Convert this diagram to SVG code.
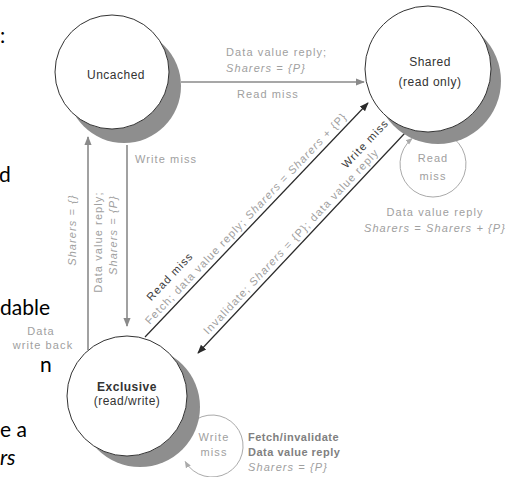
<svg xmlns="http://www.w3.org/2000/svg" width="506" height="477" viewBox="0 0 506 477">
<style>
.lbl{font-family:"Liberation Sans",Arial,sans-serif;font-size:11px;fill:#a0a0a0;letter-spacing:1.1px}
.it{font-style:italic}
.dk{fill:#3a3a3a}
.bd{font-weight:bold;fill:#808080;letter-spacing:0.5px}
.mid{text-anchor:middle}
.st{font-family:"Liberation Sans",Arial,sans-serif;font-size:12px;fill:#333;text-anchor:middle;letter-spacing:0.5px}
.circ{fill:#fff;stroke:#333;stroke-width:1}
.shad{fill:#8e8e8e}
.slide{font-family:Lato,"Open Sans",sans-serif;font-size:21px;fill:#000}
.g{stroke:#8a8a8a;stroke-width:1.6;fill:none}
.d{stroke:#2a2a2a;stroke-width:1.2;fill:none}
.loop{stroke:#aaa;stroke-width:1;fill:none}
</style>
<defs>
<marker id="ag" viewBox="0 0 10 10" refX="9" refY="5" markerWidth="9" markerHeight="9" markerUnits="userSpaceOnUse" orient="auto"><path d="M0,1 L10,5 L0,9 z" fill="#8a8a8a"/></marker>
<marker id="ad" viewBox="0 0 10 10" refX="9" refY="5" markerWidth="9" markerHeight="9" markerUnits="userSpaceOnUse" orient="auto"><path d="M0,1 L10,5 L0,9 z" fill="#2a2a2a"/></marker>
<marker id="al" viewBox="0 0 10 10" refX="9" refY="5" markerWidth="7" markerHeight="7" markerUnits="userSpaceOnUse" orient="auto"><path d="M0,1 L10,5 L0,9 z" fill="#aaa"/></marker>
</defs>

<g id="slide-text">
<text class="slide" x="0" y="43">:</text>
<text class="slide" x="-1" y="182">d</text>
<text class="slide" x="0" y="315">dable</text>
<text class="slide" x="40" y="372">n</text>
<text class="slide" x="0" y="437">e a</text>
<text class="slide" x="0" y="465" font-style="italic">rs</text>
</g>

<g id="connectors">
<line x1="181" y1="82" x2="364" y2="82" class="g" marker-end="url(#ag)"/>
<line x1="88" y1="350" x2="88" y2="137" class="g" marker-end="url(#ag)"/>
<line x1="127" y1="145" x2="127" y2="326" class="g" marker-end="url(#ag)"/>
<line x1="145" y1="337" x2="368" y2="103" class="d" marker-end="url(#ad)"/>
<line x1="405" y1="133" x2="198" y2="353" class="d" marker-end="url(#ad)"/>
<path d="M453.8,138.4 A33,33 0 1,1 412.2,138.4" class="loop" marker-end="url(#al)"/>
<path d="M196.5,419.2 A31,31 0 1,1 185.2,461.5" class="loop" marker-end="url(#al)"/>

<text class="lbl" x="226" y="56">Data value reply;</text>
<text class="lbl it" x="226" y="72">Sharers = {P}</text>
<text class="lbl" x="237" y="98">Read miss</text>

<text class="lbl" x="135" y="163">Write miss</text>
<text class="lbl it mid" transform="translate(76,230) rotate(-90)">Sharers = {}</text>
<text class="lbl mid" transform="translate(102,242) rotate(-90)">Data value reply;</text>
<text class="lbl it mid" transform="translate(117,235) rotate(-90)">Sharers = {P}</text>
<text class="lbl mid" x="41" y="335">Data</text>
<text class="lbl mid" x="43" y="349">write back</text>

<text class="lbl dk" transform="translate(151.2,301.5) rotate(-46.4)">Read miss</text>
<text class="lbl" transform="translate(149.7,324.9) rotate(-46.4)">Fetch; data value reply; <tspan class="it">Sharers</tspan> = <tspan class="it">Sharers</tspan> + {P}</text>
<text class="lbl dk" transform="translate(346.6,168.9) rotate(-46.7)">Write miss</text>
<text class="lbl" transform="translate(208.1,335) rotate(-46.7)">Invalidate; <tspan class="it">Sharers</tspan> = {P}; data value reply</text>

<text class="lbl mid" x="433" y="162">Read</text>
<text class="lbl mid" x="433" y="180">miss</text>
<text class="lbl mid" x="435" y="216">Data value reply</text>
<text class="lbl it mid" x="435" y="232">Sharers = Sharers + {P}</text>

<text class="lbl mid" x="214" y="441">Write</text>
<text class="lbl mid" x="214" y="456">miss</text>
<text class="lbl bd" x="248" y="441">Fetch/invalidate</text>
<text class="lbl bd" x="248" y="456">Data value reply</text>
<text class="lbl it" x="248" y="471">Sharers = {P}</text>
</g>

<g id="uncached">
<circle class="shad" cx="124" cy="86" r="57"/>
<circle class="circ" cx="112" cy="72" r="57"/>
<text class="st" x="116" y="79">Uncached</text>
</g>

<g id="shared">
<circle class="shad" cx="438" cy="81" r="63"/>
<circle class="circ" cx="428" cy="69" r="63"/>
<text class="st" x="430" y="66">Shared</text>
<text class="st" x="430" y="86">(read only)</text>
</g>

<g id="exclusive">
<circle class="shad" cx="140" cy="407" r="60"/>
<circle class="circ" cx="127" cy="396" r="60"/>
<text class="st" x="127" y="391" font-weight="bold" font-size="11.5">Exclusive</text>
<text class="st" x="127" y="405">(read/write)</text>
</g>
</svg>
